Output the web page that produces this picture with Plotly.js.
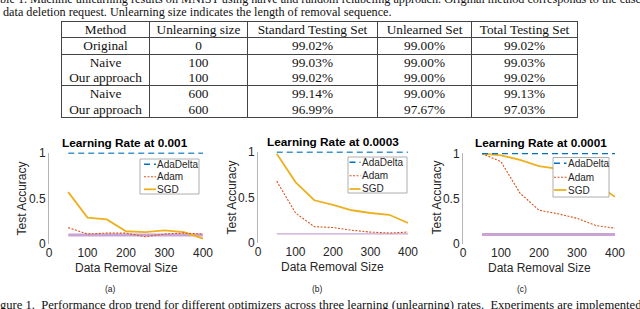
<!DOCTYPE html>
<html><head><meta charset="utf-8">
<script src="https://cdn.plot.ly/plotly-3.0.1.min.js"></script>
<style>
html,body{margin:0;padding:0;background:#fff;}
#wrap{position:relative;width:640px;height:309px;overflow:hidden;}
#chart{position:absolute;left:0;top:0;width:640px;height:309px;}
.cap{position:absolute;left:0;white-space:nowrap;font-family:"Liberation Serif","Times New Roman",serif;color:#111;z-index:5;}
#tbl{position:absolute;left:61px;top:21px;border-collapse:collapse;font-family:"Liberation Serif","Times New Roman",serif;font-size:13.3px;color:#111;z-index:5;}
#tbl td{border-left:1px solid #444;border-right:1px solid #444;padding:0;text-align:center;height:15.3px;line-height:15px;}
#tbl tr.line td{border-top:1px solid #444;}
#tbl tr.last td{border-bottom:1px solid #444;}
</style></head>
<body><div id="wrap"><div id="chart"></div>
<div class="cap" id="cap1" style="top:-8px;font-size:12.2px;">ble 1. Machine unlearning results on MNIST using naive and random relabeling approach. Original method corresponds to the case</div>
<div class="cap" id="cap2" style="top:5px;left:3px;font-size:12.2px;">data deletion request. Unlearning size indicates the length of removal sequence.</div>
<table id="tbl"></table>
<div class="cap" id="cap3" style="top:298px;font-size:12.6px;">gure 1. &nbsp;Performance drop trend for different optimizers across three learning (unlearning) rates. &nbsp;Experiments are implemented</div>
</div>
<script>
// ---------- table data ----------
const tableHeaders = ['Method','Unlearning size','Standard Testing Set','Unlearned Set','Total Testing Set'];
const tableMethods = ['Original','Naive','Our approach','Naive','Our approach'];
const tableSizes = ['0','100','100','600','600'];
const tableStandard = ['99.02%','99.03%','99.02%','99.14%','96.99%'];
const tableUnlearned = ['99.00%','99.00%','99.00%','99.00%','97.67%'];
const tableTotal = ['99.02%','99.03%','99.02%','99.13%','97.03%'];

// ---------- chart data ----------
const removalSize = [50,100,150,200,250,300,350,400];
const xTicks = [0,100,200,300,400];
const yTicks = [0,0.5,1];
const chartTitles = ['Learning Rate at 0.001','Learning Rate at 0.0003','Learning Rate at 0.0001'];
const subLabels = ['(a)','(b)','(c)'];
const seriesNames = ['AdaDelta','Adam','SGD'];

const adaDeltaA = [1,1,1,1,1,1,1,1];
const adamA = [0.18,0.11,0.12,0.12,0.08,0.11,0.12,0.11];
const sgdA = [0.57,0.29,0.27,0.14,0.13,0.15,0.13,0.06];
const baselineA = [0.1,0.1,0.1,0.1,0.1,0.1,0.1,0.1];

const adaDeltaB = [1,1,1,1,1,1,1,1];
const adamB = [0.68,0.33,0.18,0.17,0.14,0.12,0.11,0.12];
const sgdB = [0.98,0.67,0.47,0.42,0.36,0.33,0.31,0.22];
const baselineB = [0.1,0.1,0.1,0.1,0.1,0.1,0.1,0.1];

const adaDeltaC = [1,1,1,1,1,1,1,1];
const adamC = [1.0,0.91,0.56,0.37,0.33,0.28,0.20,0.17];
const sgdC = [1.0,0.98,0.93,0.86,0.83,0.77,0.66,0.52];
const baselineC = [0.1,0.1,0.1,0.1,0.1,0.1,0.1,0.1];

// ---------- build table ----------
(function(){
  const t = document.getElementById('tbl');
  const widths = [88,98,130,94,106];
  let h = '<tr class="line">' + tableHeaders.map((s,i)=>'<td style="width:'+(widths[i]-1)+'px">'+s+'</td>').join('') + '</tr>';
  const lineRows = [0,1,3];
  for (let r=0;r<tableMethods.length;r++){
    let cls = lineRows.includes(r) ? 'line' : '';
    if (r===tableMethods.length-1) cls += ' last';
    h += '<tr class="'+cls+'"><td>'+tableMethods[r]+'</td><td>'+tableSizes[r]+'</td><td>'+tableStandard[r]+'</td><td>'+tableUnlearned[r]+'</td><td>'+tableTotal[r]+'</td></tr>';
  }
  t.innerHTML = h;
})();

// ---------- plot ----------
const W=640,H=309;
const px = x => x/W, py = y => 1 - y/H;
const colors = {ada:'#0072BD', adam:'#D95319', sgd:'#EDB120', base:'#C9A3D6'};
const styles = [
  {color:colors.ada, width:1.6, dash:'6px,4px'},
  {color:colors.adam, width:1.1, dash:'2px,1.5px'},
  {color:colors.sgd, width:1.8, dash:'solid'}
];
const panels = [
  {ada:adaDeltaA, adam:adamA, sgd:sgdA, base:baselineA, baseW:3, xd:[49,203], yd:[244,152.5],
   title:[125,143], xt:[126,268], yt:[21.5,199], sub:[110,289],
   leg:{box:[140,159,199,194], ys:[164.3,176.7,189.3], lx:[144,156], tx:157}},
  {ada:adaDeltaB, adam:adamB, sgd:sgdB, base:baselineB, baseW:1.2, xd:[258,408], yd:[243,151.5],
   title:[333,142], xt:[332.5,267], yt:[231.5,198], sub:[317,289],
   leg:{box:[348,157,407,193], ys:[162.3,175.7,189], lx:[349.5,360.5], tx:361.5}},
  {ada:adaDeltaC, adam:adamC, sgd:sgdC, base:baselineC, baseW:3, xd:[463,615], yd:[243.5,153],
   title:[541,143], xt:[539,268], yt:[436.5,198], sub:[522,289],
   leg:{box:[553,157.5,609,197], ys:[163.3,177.3,190], lx:[554,566.5], tx:567.5}}
];
const traces=[]; const layout={width:W,height:H,margin:{l:0,r:0,t:0,b:0},paper_bgcolor:'#fff',plot_bgcolor:'rgba(0,0,0,0)',showlegend:false,
  font:{family:'"Liberation Sans", Arial, sans-serif',size:12,color:'#262626'},shapes:[],annotations:[]};
panels.forEach((p,i)=>{
  const n = i===0?'':String(i+1);
  const xa='x'+n, ya='y'+n;
  layout['xaxis'+n]={domain:[px(p.xd[0]),px(p.xd[1])],range:[0,400],anchor:ya,tickvals:xTicks,showgrid:false,zeroline:false,showline:false,ticks:'',tickfont:{size:12,color:'#262626'},fixedrange:true};
  layout['yaxis'+n]={domain:[py(p.yd[0]),py(p.yd[1])],range:[0,1.006],anchor:xa,tickvals:yTicks,ticktext:['0','0.5','1'],showgrid:false,zeroline:false,showline:true,linecolor:'#b5b5b5',linewidth:1,ticks:'',tickfont:{size:12,color:'#262626'},fixedrange:true};
  traces.push({x:removalSize,y:p.base,xaxis:xa,yaxis:ya,mode:'lines',line:{color:colors.base,width:p.baseW},hoverinfo:'skip'});
  const data=[p.ada,p.adam,p.sgd];
  [2,1,0].forEach(k=>{
    traces.push({x:removalSize,y:data[k],xaxis:xa,yaxis:ya,mode:'lines',name:seriesNames[k],line:styles[k]});
  });
  layout.annotations.push({xref:'paper',yref:'paper',x:px(p.title[0]),y:py(p.title[1]),text:'<b>'+chartTitles[i]+'</b>',showarrow:false,font:{size:11.8,color:'#000'},xanchor:'center',yanchor:'middle'});
  layout.annotations.push({xref:'paper',yref:'paper',x:px(p.xt[0]),y:py(p.xt[1]),text:'Data Removal Size',showarrow:false,font:{size:12,color:'#262626'},xanchor:'center',yanchor:'middle'});
  layout.annotations.push({xref:'paper',yref:'paper',x:px(p.yt[0]),y:py(p.yt[1]),text:'Test Accuracy',textangle:-90,showarrow:false,font:{size:12,color:'#262626'},xanchor:'center',yanchor:'middle'});
  layout.annotations.push({xref:'paper',yref:'paper',x:px(p.sub[0]),y:py(p.sub[1]),text:subLabels[i],showarrow:false,font:{size:8.5,color:'#222'},xanchor:'center',yanchor:'middle'});
  // legend box
  const L=p.leg;
  layout.shapes.push({type:'rect',xref:'paper',yref:'paper',x0:px(L.box[0]),x1:px(L.box[2]),y0:py(L.box[1]),y1:py(L.box[3]),fillcolor:'#fff',line:{color:'#9a9a9a',width:0.8},layer:'above'});
  seriesNames.forEach((nm,k)=>{
    layout.shapes.push({type:'line',xref:'paper',yref:'paper',x0:px(L.lx[0]),x1:px(L.lx[1]),y0:py(L.ys[k]),y1:py(L.ys[k]),line:{color:styles[k].color,width:styles[k].width,dash:styles[k].dash},layer:'above'});
    layout.annotations.push({xref:'paper',yref:'paper',x:px(L.tx),y:py(L.ys[k]),text:nm,showarrow:false,font:{size:10,color:'#262626'},xanchor:'left',yanchor:'middle',xshift:-2});
  });
});
Plotly.newPlot('chart',traces,layout,{staticPlot:true,displayModeBar:false});
</script></body></html>
